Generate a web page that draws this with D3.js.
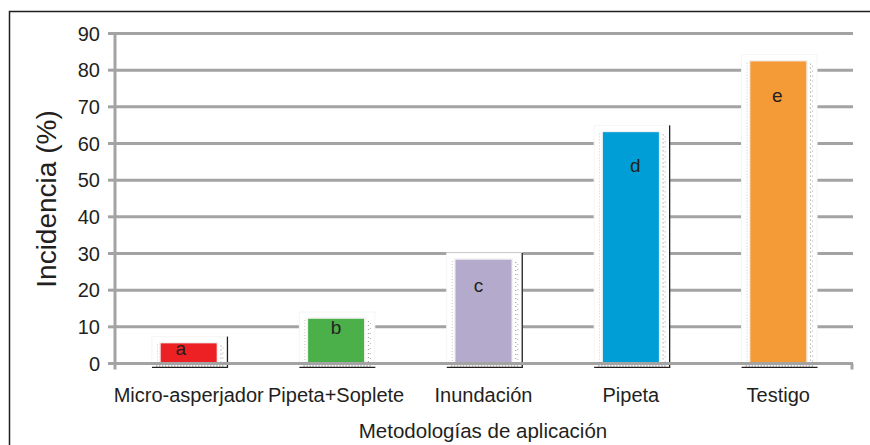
<!DOCTYPE html>
<html>
<head>
<meta charset="utf-8">
<script src="https://cdn.jsdelivr.net/npm/d3@7"></script>
<style>
  html, body { margin: 0; padding: 0; background: #fff; }
  svg { display: block; }
  text { font-family: "Liberation Sans", Arial, sans-serif; fill: #231f20; }
</style>
</head>
<body>
<svg id="chart" width="870" height="445"></svg>
<script>
// ---- data ----
const categories = ["Micro-asperjador", "Pipeta+Soplete", "Inundación", "Pipeta", "Testigo"];
const values = [5.7, 12.4, 28.5, 63.3, 82.6];
const letters = ["a", "b", "c", "d", "e"];
const letterValues = [4.0, 9.7, 21.4, 54.1, 73.2];
const letterDx = [-8, 0, -5, 4.5, -1];
const edgeLine = [true, false, true, true, false];
const colors = ["#ed2024", "#4cb04a", "#b4abcc", "#009ed6", "#f49a36"];
const yTicks = [0, 10, 20, 30, 40, 50, 60, 70, 80, 90];
const yTitle = "Incidencia (%)";
const xTitle = "Metodologías de aplicación";

// ---- layout ----
const svg = d3.select("#chart");
const pLeft = 115, pRight = 852, pTop = 33.5, pBottom = 363.5;

const x = d3.scaleBand().domain(categories).range([pLeft, pRight]).padding(0);
const y = d3.scaleLinear().domain([0, 90]).range([pBottom, pTop]);
const barW = x.bandwidth() * 0.39;

// outer frame
svg.append("rect")
  .attr("x", 9.5).attr("y", 11.5).attr("width", 900).attr("height", 500)
  .attr("fill", "none").attr("stroke", "#231f20").attr("stroke-width", 1.5);

// gridlines
svg.append("g").selectAll("line").data(yTicks.filter(d => d > 0)).join("line")
  .attr("x1", pLeft).attr("x2", pRight + 1)
  .attr("y1", d => y(d)).attr("y2", d => y(d))
  .attr("stroke", "#a3a3a3").attr("stroke-width", 3);

// bar "boxes"
const g = svg.append("g");
categories.forEach((c, i) => {
  const cx = x(c) + x.bandwidth() / 2;
  const bl = cx - barW / 2, br = cx + barW / 2;
  const bt = y(values[i]);
  g.append("rect")
    .attr("x", bl - 8).attr("y", bt - 6)
    .attr("width", (br + 10) - (bl - 8)).attr("height", pBottom - (bt - 6))
    .attr("fill", "#fff").attr("stroke", "#f5f5f5").attr("stroke-width", 1);
  g.append("rect")
    .attr("x", bl).attr("y", bt)
    .attr("width", barW).attr("height", pBottom - bt)
    .attr("fill", colors[i]).attr("stroke", "#f2f2f2").attr("stroke-width", 1.5);
  g.append("line")
    .attr("x1", bl - 2.5).attr("x2", bl - 2.5).attr("y1", bt + 2).attr("y2", pBottom)
    .attr("stroke", "#c8c8c8").attr("stroke-width", 1).attr("stroke-dasharray", "1,2");
  g.append("line")
    .attr("x1", br + 3.5).attr("x2", br + 3.5).attr("y1", bt + 3).attr("y2", pBottom)
    .attr("stroke", "#8a8a8a").attr("stroke-width", 1).attr("stroke-dasharray", "1,3");
  g.append("line")
    .attr("x1", br + 5.5).attr("x2", br + 5.5).attr("y1", bt + 5).attr("y2", pBottom)
    .attr("stroke", "#b0b0b0").attr("stroke-width", 1).attr("stroke-dasharray", "1,4");
  g.append("line")
    .attr("x1", bl - 4).attr("x2", br + 6).attr("y1", pBottom + 2.5).attr("y2", pBottom + 2.5)
    .attr("stroke", "#8a8a8a").attr("stroke-width", 1.2).attr("stroke-dasharray", "1.5,1.5");
  g.append("line")
    .attr("x1", bl - 8).attr("x2", br + 10.5).attr("y1", pBottom + 3.8).attr("y2", pBottom + 3.8)
    .attr("stroke", "#231f20").attr("stroke-width", 1.3);
  if (edgeLine[i]) {
    g.append("line")
      .attr("x1", br + 10).attr("x2", br + 10).attr("y1", bt - 6).attr("y2", pBottom + 4.4)
      .attr("stroke", "#231f20").attr("stroke-width", 1.3);
  }
  g.append("text")
    .attr("x", cx + letterDx[i]).attr("y", y(letterValues[i]))
    .attr("text-anchor", "middle").attr("dominant-baseline", "central")
    .attr("font-size", 19).text(letters[i]);
});

// axes lines
svg.append("line")
  .attr("x1", pLeft - 1).attr("x2", pRight + 1).attr("y1", pBottom).attr("y2", pBottom)
  .attr("stroke", "#a3a3a3").attr("stroke-width", 3);
svg.append("line")
  .attr("x1", pLeft).attr("x2", pLeft).attr("y1", pTop - 1.5).attr("y2", pBottom + 6)
  .attr("stroke", "#a3a3a3").attr("stroke-width", 3);
svg.append("line")
  .attr("x1", pRight).attr("x2", pRight).attr("y1", pBottom).attr("y2", pBottom + 6)
  .attr("stroke", "#a3a3a3").attr("stroke-width", 3);

// y ticks + labels
const yt = svg.append("g");
yt.selectAll("line").data(yTicks).join("line")
  .attr("x1", pLeft - 7).attr("x2", pLeft).attr("y1", d => y(d)).attr("y2", d => y(d))
  .attr("stroke", "#a3a3a3").attr("stroke-width", 3);
yt.selectAll("text").data(yTicks).join("text")
  .attr("x", 100).attr("y", d => y(d)).attr("dy", "0.36em")
  .attr("text-anchor", "end").attr("font-size", 20).text(d => d);

// x category labels
svg.append("g").selectAll("text").data(categories).join("text")
  .attr("x", d => x(d) + x.bandwidth() / 2).attr("y", 402)
  .attr("text-anchor", "middle").attr("font-size", 20).text(d => d);

// titles
svg.append("text")
  .attr("x", 483).attr("y", 438).attr("text-anchor", "middle")
  .attr("font-size", 20.5).text(xTitle);
svg.append("text")
  .attr("transform", "translate(56,199) rotate(-90)")
  .attr("text-anchor", "middle").attr("font-size", 28).text(yTitle);
</script>
</body>
</html>
